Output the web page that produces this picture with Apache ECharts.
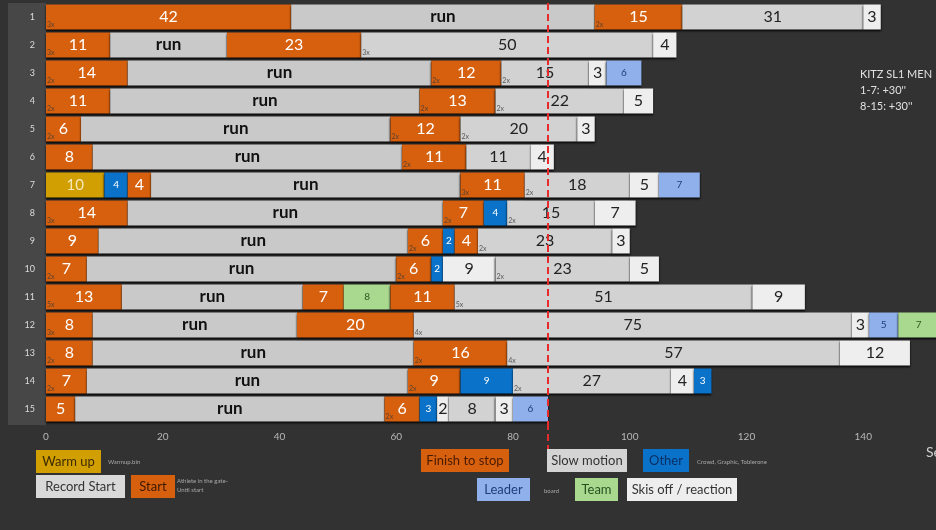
<!DOCTYPE html>
<html>
<head>
<meta charset="utf-8">
<script src="https://cdn.jsdelivr.net/npm/echarts@6/dist/echarts.min.js"></script>
<style>
  html, body { margin: 0; padding: 0; background: #323232; }
  #chart { width: 936px; height: 530px; }
</style>
</head>
<body>
<div id="chart"></div>
<script>
// row names (top to bottom)
var rowNames = ['1', '2', '3', '4', '5', '6', '7', '8', '9', '10', '11', '12', '13', '14', '15'];

// segments per row: [type, seconds, repeat marker]
// W warm up, O other, S start, R run, F finish to stop, M slow motion,
// K skis off / reaction, L leader board, T team
var row1 = [['S', 42, '3x'], ['R', 52], ['F', 15, '2x'], ['M', 31], ['K', 3]];
var row2 = [['S', 11, '3x'], ['R', 20], ['F', 23], ['M', 50, '3x'], ['K', 4]];
var row3 = [['S', 14, '2x'], ['R', 52], ['F', 12, '2x'], ['M', 15, '2x'], ['K', 3], ['L', 6]];
var row4 = [['S', 11, '2x'], ['R', 53], ['F', 13, '2x'], ['M', 22, '2x'], ['K', 5]];
var row5 = [['S', 6, '2x'], ['R', 53], ['F', 12, '2x'], ['M', 20, '2x'], ['K', 3]];
var row6 = [['S', 8], ['R', 53], ['F', 11, '2x'], ['M', 11], ['K', 4]];
var row7 = [['W', 10], ['O', 4], ['S', 4], ['R', 53], ['F', 11, '3x'], ['M', 18, '2x'], ['K', 5], ['L', 7]];
var row8 = [['S', 14, '3x'], ['R', 54], ['F', 7, '2x'], ['O', 4], ['M', 15, '2x'], ['K', 7]];
var row9 = [['S', 9], ['R', 53], ['F', 6, '2x'], ['O', 2], ['F', 4], ['M', 23, '2x'], ['K', 3]];
var row10 = [['S', 7, '2x'], ['R', 53], ['F', 6, '2x'], ['O', 2], ['K', 9], ['M', 23, '2x'], ['K', 5]];
var row11 = [['S', 13, '5x'], ['R', 31], ['F', 7], ['T', 8], ['F', 11], ['M', 51, '5x'], ['K', 9]];
var row12 = [['S', 8, '3x'], ['R', 35], ['F', 20], ['M', 75, '4x'], ['K', 3], ['L', 5], ['T', 7]];
var row13 = [['S', 8, '2x'], ['R', 55], ['F', 16, '2x'], ['M', 57, '4x'], ['K', 12]];
var row14 = [['S', 7, '2x'], ['R', 55], ['F', 9, '2x'], ['O', 9], ['M', 27, '2x'], ['K', 4], ['O', 3]];
var row15 = [['S', 5], ['R', 53], ['F', 6, '2x'], ['O', 3], ['K', 2], ['M', 8], ['K', 3], ['L', 6]];

var rows = [row1, row2, row3, row4, row5, row6, row7, row8, row9, row10, row11, row12, row13, row14, row15];

var xTicks = [0, 20, 40, 60, 80, 100, 120, 140];
var limitLine = 86;

var colors = {
    W: '#d29f02', O: '#0a72c8', S: '#d6600e', R: '#c9c9c9', F: '#d6600e',
    M: '#d2d2d2', K: '#eeeeee', L: '#8fb0ea', T: '#a9d98f'
};
var font = 'Lato';

function labelFor(type) {
    var base = { show: true, position: 'inside', fontFamily: font, textBorderWidth: 0, textShadowBlur: 0 };
    if(type === 'R') {
        return Object.assign(base, { formatter: 'run', color: '#111', fontSize: 17, fontWeight: 'bold' });
    }
    if(type === 'S' || type === 'F') {
        return Object.assign(base, { color: '#fff', fontSize: 16 });
    }
    if(type === 'W') {
        return Object.assign(base, { color: '#f6e9b8', fontSize: 15 });
    }
    if(type === 'O') {
        return Object.assign(base, { color: '#fff', fontSize: 10 });
    }
    if(type === 'L') {
        return Object.assign(base, { color: '#1d3d7c', fontSize: 10 });
    }
    if(type === 'T') {
        return Object.assign(base, { color: '#2b5a1e', fontSize: 10 });
    }
    return Object.assign(base, { color: '#222', fontSize: 16 });
}

var nSlots = 0;
rows.forEach(function(r) { nSlots = Math.max(nSlots, r.length); });

var series = [];
for(var k = 0; k < nSlots; k++) {
    series.push({
        type: 'bar',
        stack: 'all',
        barWidth: 25,
        silent: true,
        itemStyle: { shadowColor: 'rgba(0,0,0,0.95)', shadowBlur: 2, shadowOffsetY: 1.5 },
        data: rows.map(function(r) {
            var seg = r[k];
            if(!seg) {
                return '-';
            }
            return { value: seg[1], itemStyle: { color: colors[seg[0]] }, label: labelFor(seg[0]) };
        })
    });
}

// small repeat markers ("2x") at the start of segments
var markers = [];
rows.forEach(function(r, i) {
    var x = 0;
    r.forEach(function(seg) {
        if(seg[2]) {
            markers.push({ value: [x, rowNames[i]], name: seg[2] });
        }
        x += seg[1];
    });
});
series.push({
    type: 'scatter',
    symbolSize: 0,
    silent: true,
    z: 5,
    data: markers,
    label: {
        show: true, position: 'right', distance: 1, offset: [0, 8],
        formatter: function(p) { return p.name; },
        color: '#3a3a3a', fontSize: 7, fontFamily: font
    }
});

series[0].markLine = {
    silent: true,
    symbol: 'none',
    label: { show: false },
    lineStyle: { color: '#e82a2a', type: [7, 4], width: 2 },
    data: [{ xAxis: limitLine }]
};

function legendBox(x, y, w, text, fill, textColor) {
    return {
        type: 'group', left: x, top: y, z: 20,
        children: [
            { type: 'rect', z: 20, shape: { x: 0, y: 0, width: w, height: 23 }, style: { fill: fill } },
            { type: 'text', z: 21, x: w / 2, y: 12, style: { text: text, fill: textColor, font: '13px ' + font, align: 'center', verticalAlign: 'middle' } }
        ]
    };
}
function note(x, y, text) {
    return { type: 'text', left: x, top: y, style: { text: text, fill: '#a8a8a8', font: '6px ' + font, lineHeight: 9 } };
}

var graphics = [
    { type: 'rect', left: 8, top: 3, z: -10, shape: { width: 38, height: 422 }, style: { fill: '#474747' } },
    legendBox(36, 450, 65, 'Warm up', colors.W, '#3b2b00'),
    legendBox(36, 475, 89, 'Record Start', '#d9d9d9', '#333'),
    legendBox(131, 475, 44, 'Start', colors.S, '#3d1800'),
    legendBox(421, 449, 88, 'Finish to stop', colors.F, '#4a1a00'),
    legendBox(547, 449, 80, 'Slow motion', '#d4d4d4', '#333'),
    legendBox(643, 449, 46, 'Other', colors.O, '#0b2f66'),
    legendBox(477, 478, 53, 'Leader', colors.L, '#1d3d7c'),
    legendBox(575, 478, 43, 'Team', colors.T, '#275220'),
    legendBox(627, 478, 110, 'Skis off / reaction', '#eeeeee', '#333'),
    note(108, 458, 'Warmup.bin'),
    note(177, 477, 'Athlete in the gate-\nUntil start'),
    note(697, 458, 'Crowd, Graphic, Toblerone'),
    note(544, 487, 'board'),
    { type: 'text', left: 860, top: 66, style: { text: 'KITZ SL1 MEN\n1-7: +30\'\'\n8-15: +30\'\'', fill: '#e0e0e0', font: '11px ' + font, lineHeight: 16 } },
    { type: 'text', left: 926, top: 445, style: { text: 'Sec', fill: '#cfcfcf', font: '14px ' + font } }
];

var chart = echarts.init(document.getElementById('chart'));
chart.setOption({
    backgroundColor: '#323232',
    animation: false,
    grid: { left: 46, top: 3, width: 934, height: 420, outerBoundsMode: 'none', containLabel: false },
    xAxis: {
        type: 'value', min: 0, max: 160, interval: 20,
        axisLine: { show: false }, axisTick: { show: false }, splitLine: { show: false },
        axisLabel: {
            color: '#b8b8b8', fontSize: 10, fontFamily: font, margin: 9,
            formatter: function(v) { return xTicks.indexOf(v) >= 0 ? v : ''; }
        }
    },
    yAxis: {
        type: 'category', data: rowNames, inverse: true,
        axisLine: { show: false }, axisTick: { show: false },
        axisLabel: { color: '#dcdcdc', fontSize: 9, fontFamily: font, margin: 11 }
    },
    graphic: graphics,
    series: series
});

// continue the red limit line down to the legend area
var px = chart.convertToPixel({ xAxisIndex: 0 }, limitLine);
graphics.push({
    type: 'line', z: 10,
    shape: { x1: px, y1: 423, x2: px, y2: 472 },
    style: { stroke: '#e82a2a', lineWidth: 2, lineDash: [7, 4] }
});
chart.setOption({ graphic: graphics });
</script>
</body>
</html>
